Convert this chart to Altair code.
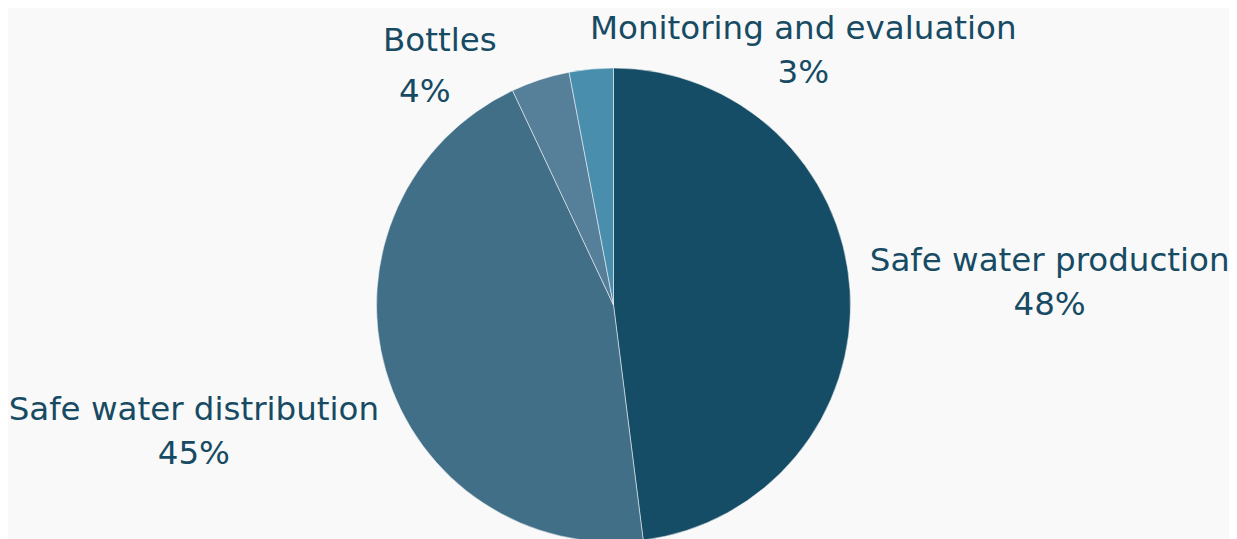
import altair as alt
import pandas as pd

categories = ["Safe water production", "Safe water distribution", "Bottles", "Monitoring and evaluation"]
shares = [48, 45, 4, 3]
colors = ["#154c66", "#416f87", "#567f99", "#4a8eae"]

df = pd.DataFrame({
    "category": categories,
    "share": shares,
    "order": list(range(len(categories))),
})
df["pct"] = df["share"].astype(str) + "%"
df["label"] = df["category"] + "\n" + df["pct"]

base = alt.Chart(df).encode(
    theta=alt.Theta("share:Q", stack=True),
    order=alt.Order("order:Q"),
)

pie = base.mark_arc(radius=237, stroke="#ffffff", strokeWidth=1, strokeOpacity=0.5).encode(
    color=alt.Color("category:N", scale=alt.Scale(domain=categories, range=colors), legend=None)
)

text_style = dict(font="DejaVu Sans", fontSize=32.5, color="#174b63", align="center",
                  baseline="middle", lineBreak="\n", lineHeight=44)


def label_layer(names, field="label", **kw):
    return base.mark_text(**text_style, **kw).encode(
        text=alt.condition(alt.FieldOneOfPredicate(field="category", oneOf=names),
                           alt.Text(f"{field}:N"), alt.value(""))
    )


big = label_layer(categories[:2], radius=437, dy=-17)
bottles_name = label_layer([categories[2]], field="category", radius=300, dx=-81, dy=21)
bottles_pct = label_layer([categories[2]], field="pct", radius=300, dx=-96, dy=72)
monitor = label_layer([categories[3]], radius=300, dx=218, dy=23)

chart = alt.layer(pie, big, bottles_name, bottles_pct, monitor).properties(
    width=1211, height=594,
    padding={"left": 0, "top": 0, "right": 10, "bottom": 0},
    autosize=alt.AutoSizeParams(type="none"),
    background="#f9f9f9",
).configure_view(stroke=None)

chart.save("out.html", embed_options={"renderer": "svg", "actions": False})
